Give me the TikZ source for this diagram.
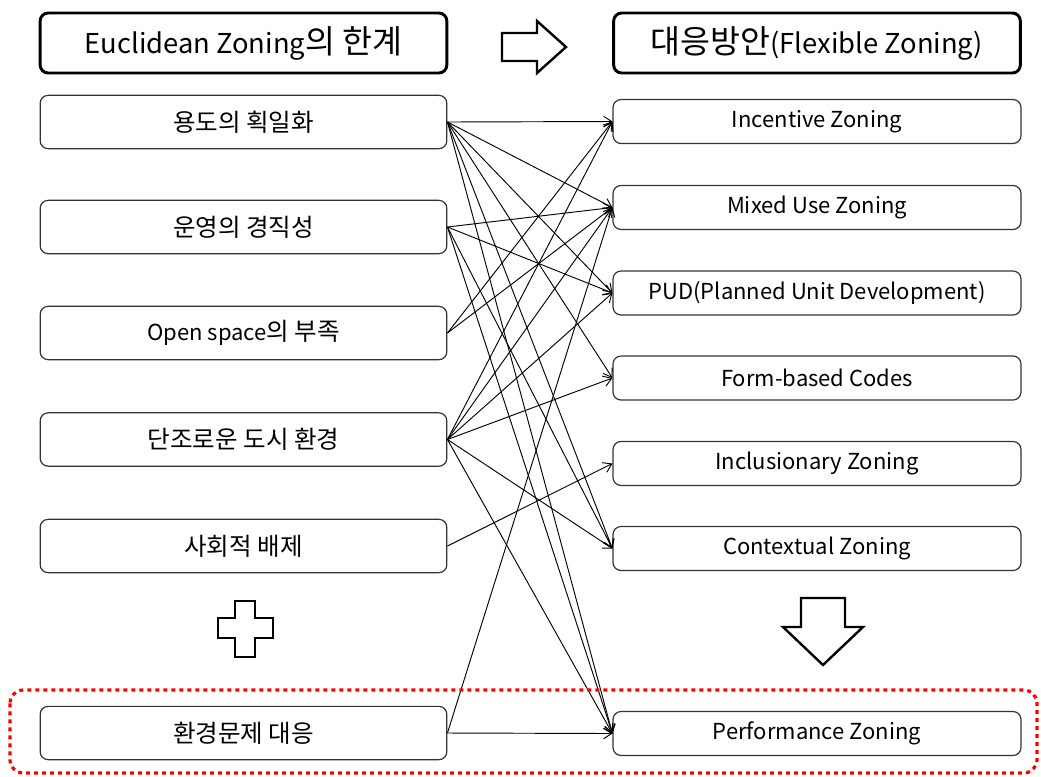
\documentclass[tikz,border=0pt]{standalone}
\usepackage{fontspec}
\setmainfont{Noto Sans CJK KR}
% hangul is set larger than the latin letters around it
\newcommand\hangulsize{18.4pt}
\newcommand\hangul[1]{{\fontsize{\hangulsize}{\hangulsize}\selectfont #1}}
\usetikzlibrary{arrows.meta}

\begin{document}
\begin{tikzpicture}[x=0.75pt,y=-0.75pt,
    box/.style={draw=black!80,line width=0.9pt,rounded corners=6pt,font=\fontsize{16.5}{19}\selectfont},
    head/.style={draw=black,line width=2.2pt,rounded corners=6pt,minimum width=305pt,minimum height=45pt,
        font=\fontsize{20.5}{24}\selectfont\renewcommand\hangulsize{24.4pt}},
    link/.style={-{Straight Barb[length=6pt,width=8pt]},line width=0.7pt},
    blockarrow/.style={draw=black,line width=1.8pt,fill=white,line join=miter}]
    \useasboundingbox (0,0) rectangle (1041,776);

    % titles of both columns
    \node[head] (hl) at (243.5,43) {Euclidean Zoning\hangul{의 한계}};
    \node[head] (hr) at (817,43) {\hangul{대응방안}(Flexible Zoning)};
    \draw[blockarrow] (502,33) -- (537,33) -- (537,21) -- (566,47) -- (537,73) -- (537,61) -- (502,61) -- cycle;

    % left column: limits
    \foreach \n/\y/\txt in {1/122/\hangul{용도의 획일화}, 2/227/\hangul{운영의 경직성},
                            3/333/Open space\hangul{의 부족}, 4/439.5/\hangul{단조로운 도시 환경},
                            5/546/\hangul{사회적 배제}, 6/733/\hangul{환경문제 대응}}
    \node[box,minimum width=305pt,minimum height=40pt] (l\n) at (243.5,\y) {\txt};

    % right column: flexible zoning tools
    \foreach \n/\y/\txt in {1/121.5/Incentive Zoning, 2/207.5/Mixed Use Zoning, 3/293/PUD(Planned Unit Development),
                            4/378/Form-based Codes, 5/463.5/Inclusionary Zoning, 6/548.5/Contextual Zoning,
                            7/733.5/Performance Zoning}
    \node[box,minimum width=306pt,minimum height=33pt] (r\n) at (817,\y) {\txt};

    % which limit is answered by which tool
    \foreach \a/\b in {1/1,1/2,1/3,1/4,1/6,1/7,2/2,2/3,2/6,2/7,3/1,3/2,
                       4/1,4/2,4/3,4/4,4/6,4/7,5/5,6/2,6/7}
    \draw[link] (l\a.east) -- (r\b.west);

    % plus sign under the left column
    \draw[blockarrow] (235,601) -- (255,601) -- (255,618) -- (273,618) -- (273,638) -- (255,638)
        -- (255,657) -- (235,657) -- (235,638) -- (218,638) -- (218,618) -- (235,618) -- cycle;
    % down arrow under the right column
    \draw[blockarrow] (801,598) -- (845,598) -- (845,627) -- (863,627) -- (823,665) -- (783,627) -- (801,627) -- cycle;

    % environmental row
    \draw[red,line width=2.4pt,dash pattern=on 3pt off 3pt,rounded corners=10pt] (10,690) rectangle (1037,773);
\end{tikzpicture}
\end{document}
